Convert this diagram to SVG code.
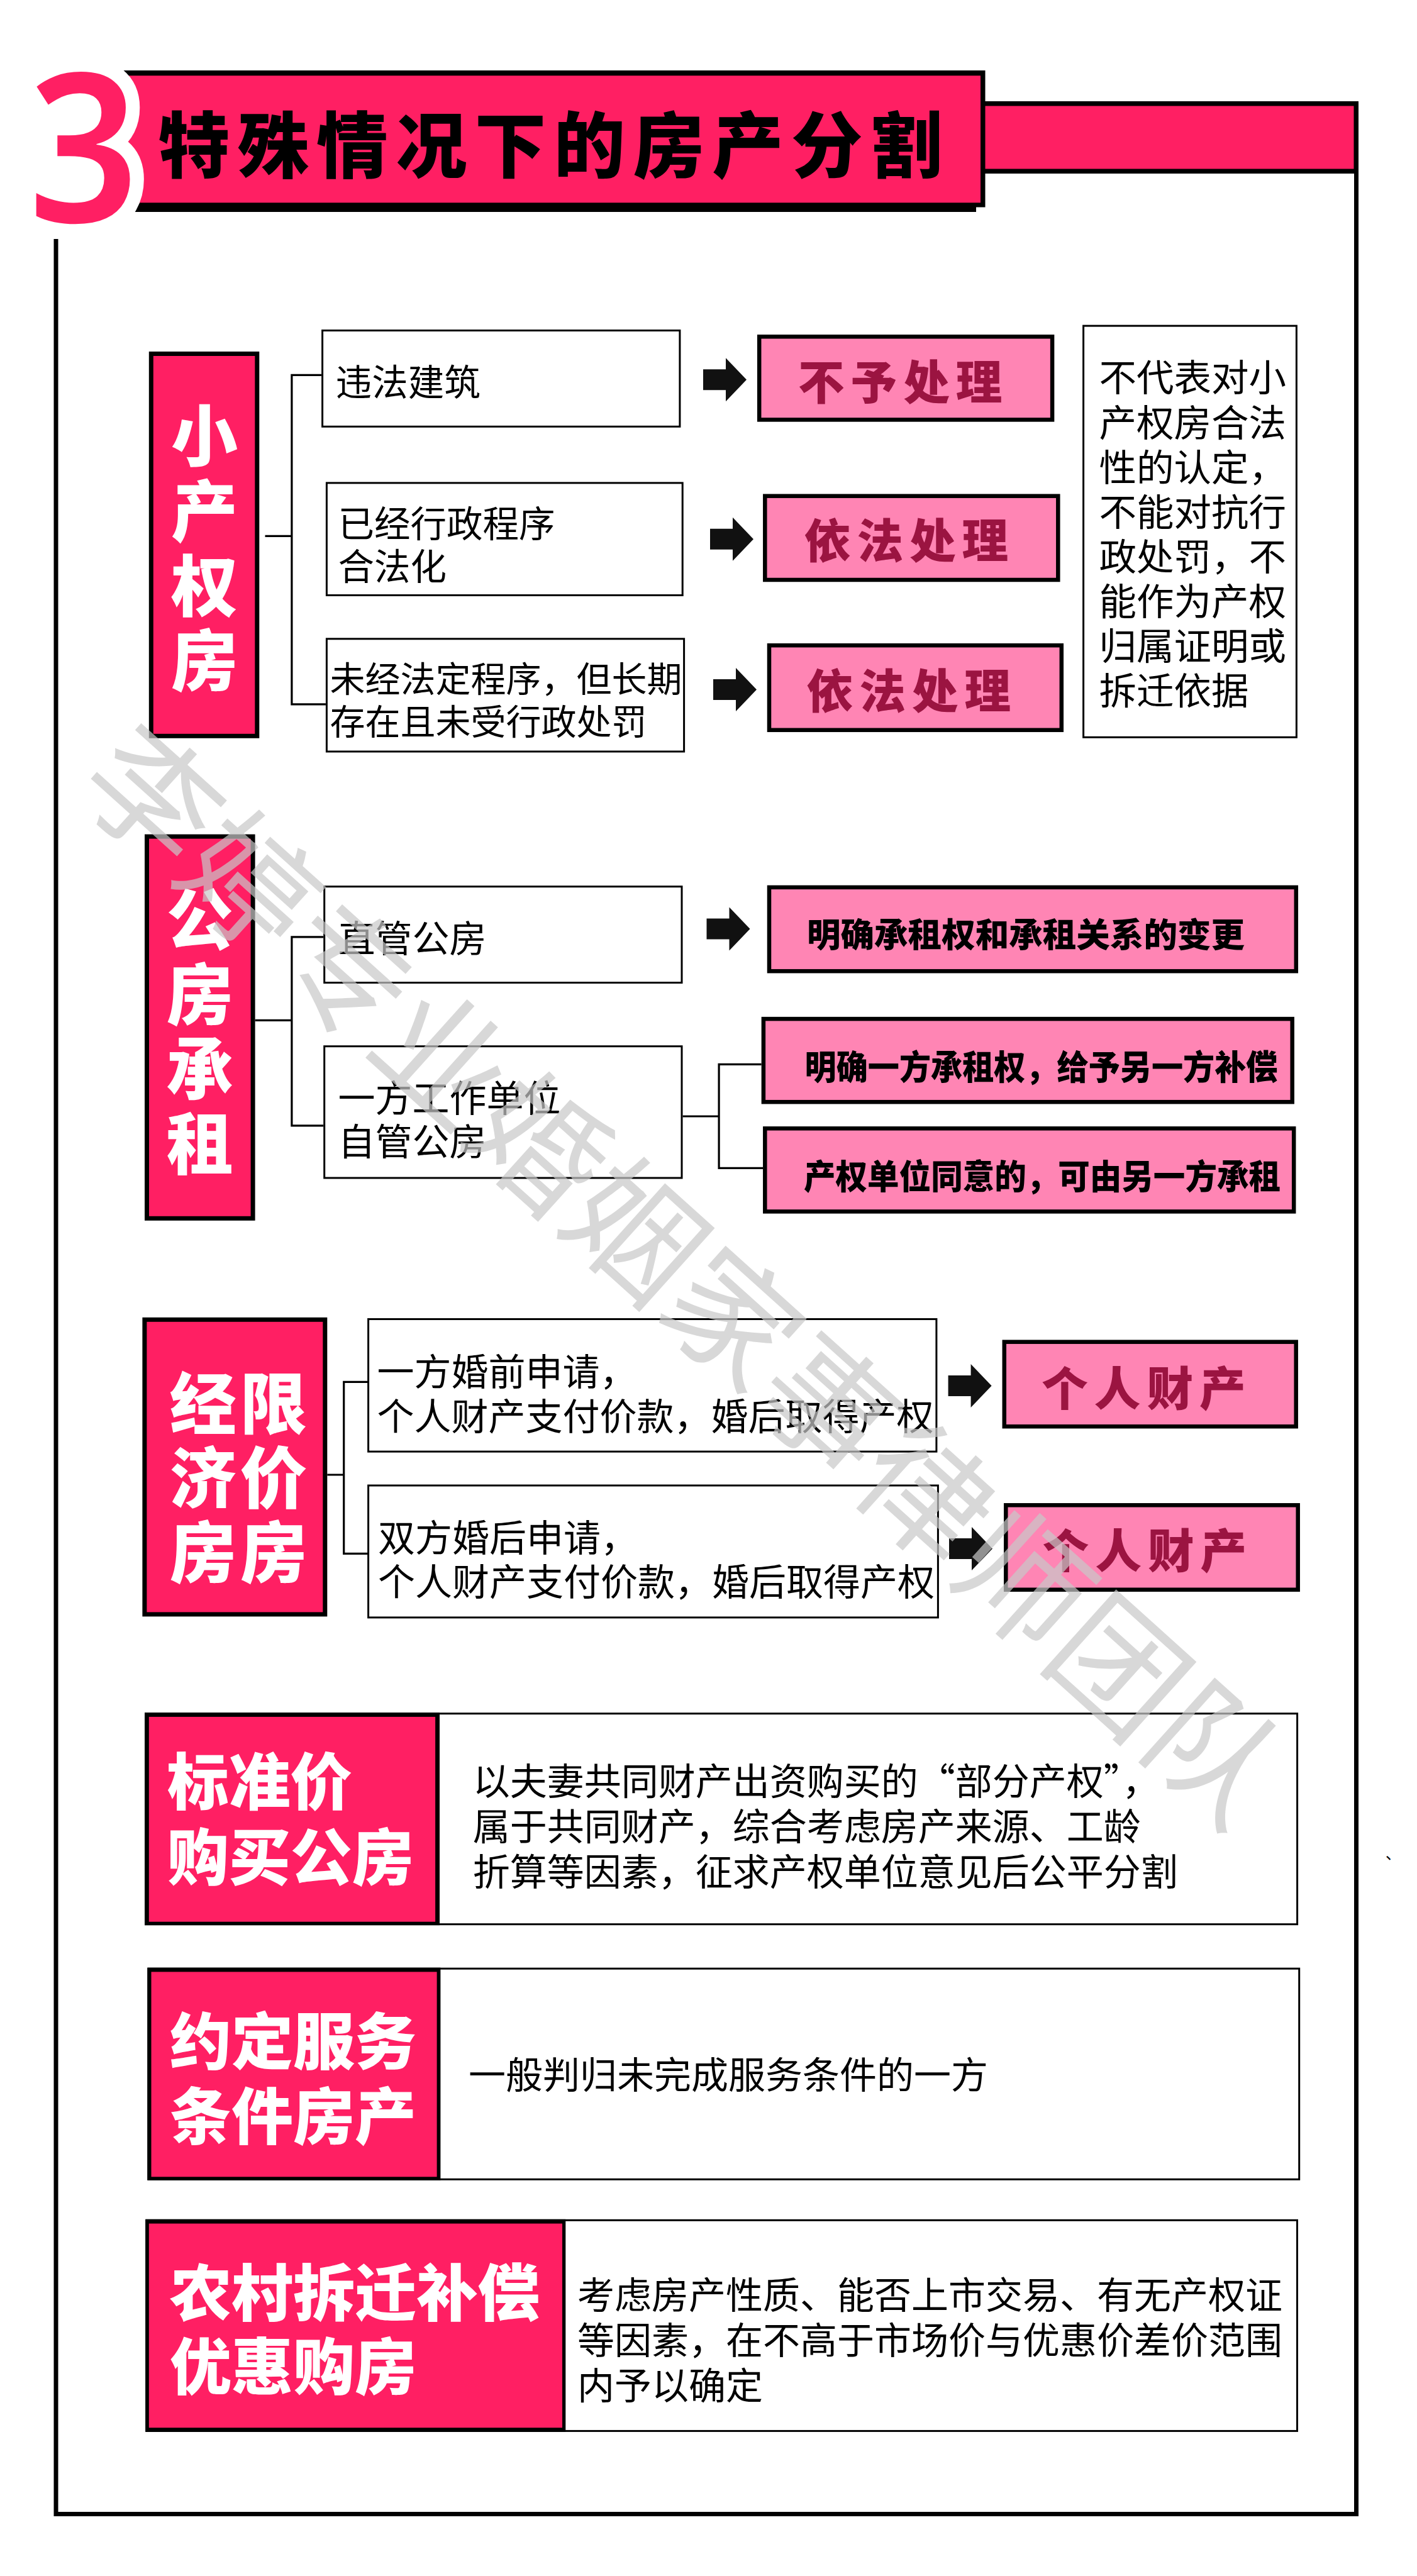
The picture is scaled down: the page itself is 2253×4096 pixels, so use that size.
<svg xmlns="http://www.w3.org/2000/svg" xmlns:xlink="http://www.w3.org/1999/xlink" width="2253" height="4096" viewBox="0 0 2253 4096">
<defs>
<style>
.wb{fill:#fff;stroke:#000;stroke-width:3}
.pb{fill:#ff85b4;stroke:#000;stroke-width:6.5}
.hb{fill:#ff1f63;stroke:#000;stroke-width:7}
.ln{fill:none;stroke:#000;stroke-width:3.2}
.fr{fill:none;stroke:#000;stroke-width:7}
text{font-family:"Noto Sans CJK SC","Noto Sans",sans-serif;dominant-baseline:central}
.t{font-size:59px;fill:#000;font-weight:400}
.tv{font-size:106px;fill:#fff;font-weight:900;text-anchor:middle}
.tw{font-size:98px;fill:#fff;font-weight:900}
.tr{font-size:73.6px;fill:#9b1441;font-weight:900;letter-spacing:10px;text-anchor:middle}
.tk{font-size:54px;fill:#000;font-weight:900;text-anchor:middle}
.ar{fill:#111}
</style>
<path id="arr" class="ar" d="M0,-16.5 H36 V-34.5 L69,0 L36,34.5 V16.5 H0 Z"/>
</defs>
<rect width="2253" height="4096" fill="#fff"/>

<g id="title">
<rect x="1563" y="161" width="597" height="115" fill="#000"/>
<rect x="1566" y="168.5" width="586.5" height="100" fill="#ff1f63"/>
<rect x="169" y="112" width="1397.5" height="217.5" fill="#000"/>
<rect x="205" y="322" width="1347" height="15" fill="#000"/>
<rect x="184" y="120.3" width="1375" height="202" fill="#ff1f63"/>
<text x="251.6" y="223.7" style="font-size:113.5px;font-weight:900;letter-spacing:12.3px;fill:#000">特殊情况下的房产分割</text>
<text transform="translate(133,353) scale(0.93,1)" x="0" y="0" style="font-family:'Noto Sans',sans-serif;font-size:330px;font-weight:600;fill:#ff1f63;stroke:#fff;stroke-width:48px;paint-order:stroke;text-anchor:middle;dominant-baseline:alphabetic">3</text>
</g>

<g id="frame">
<path class="fr" d="M89,380 V3997.5 H2156.5 V275"/>
</g>

<g id="connectors">
<path class="ln" d="M421.5,852.3 H463.9 M511.1,596.4 H463.9 V1119.8 H517.9"/>
<path class="ln" d="M405.6,1622.4 H463.9 M514.2,1489.8 H463.9 V1789.9 H514.2"/>
<path class="ln" d="M1085.5,1775 H1143.1 M1210.6,1692.3 H1143.1 V1857.4 H1213"/>
<path class="ln" d="M520.3,2345 H546.7 M586.6,2197.3 H546.7 V2470.3 H593.4"/>
<use xlink:href="#arr" href="#arr" x="1118" y="603.8"/>
<use xlink:href="#arr" href="#arr" x="1129" y="857.2"/>
<use xlink:href="#arr" href="#arr" x="1134" y="1096.5"/>
<use xlink:href="#arr" href="#arr" x="1123.5" y="1477"/>
<use xlink:href="#arr" href="#arr" x="1507.6" y="2203.4"/>
<use xlink:href="#arr" href="#arr" x="1509" y="2462.4"/>
</g>

<g id="n-xcqf">
<rect class="hb" x="240.3" y="562.5" width="168.5" height="607.8"/>
<text class="tv" x="325" y="686">小</text>
<text class="tv" x="325" y="805.7">产</text>
<text class="tv" x="325" y="925.3">权</text>
<text class="tv" x="325" y="1042.5">房</text>
</g>
<g id="n-wfjz">
<rect class="wb" x="512.6" y="525.5" width="568.3" height="152.8"/>
<text class="t" x="533.8" y="603.8" style="font-size:57.5px">违法建筑</text>
</g>
<g id="n-yjxz">
<rect class="wb" x="519.4" y="767.9" width="565.8" height="178.6"/>
<text class="t" x="537.5" y="829" style="font-size:57.5px">已经行政程序</text>
<text class="t" x="537.5" y="897" style="font-size:57.5px">合法化</text>
</g>
<g id="n-wjfd">
<rect class="wb" x="519.4" y="1015.8" width="568.2" height="179.2"/>
<text class="t" x="524.6" y="1075.6" style="font-size:56px">未经法定程序，但长期</text>
<text class="t" x="524.6" y="1143.7" style="font-size:56px">存在且未受行政处罚</text>
</g>
<g id="n-byc">
<rect class="pb" x="1207.2" y="535.3" width="465.9" height="132.1"/>
<text class="tr" x="1436.2" y="602.5">不予处理</text>
</g>
<g id="n-yfcl1">
<rect class="pb" x="1216.3" y="788.7" width="466" height="133.3"/>
<text class="tr" x="1446" y="854.7">依法处理</text>
</g>
<g id="n-yfcl2">
<rect class="pb" x="1223" y="1026.2" width="464.8" height="134.6"/>
<text class="tr" x="1449.8" y="1094">依法处理</text>
</g>
<g id="n-note">
<rect class="wb" x="1722.6" y="518.1" width="338.8" height="654.2"/>
<text class="t" x="1747.5" y="596.4" style="font-size:59.5px">不代表对小</text>
<text class="t" x="1747.5" y="667.5" style="font-size:59.5px">产权房合法</text>
<text class="t" x="1747.5" y="738.6" style="font-size:59.5px">性的认定，</text>
<text class="t" x="1747.5" y="809.7" style="font-size:59.5px">不能对抗行</text>
<text class="t" x="1747.5" y="880.8" style="font-size:59.5px">政处罚，不</text>
<text class="t" x="1747.5" y="951.9" style="font-size:59.5px">能作为产权</text>
<text class="t" x="1747.5" y="1023" style="font-size:59.5px">归属证明或</text>
<text class="t" x="1747.5" y="1094.1" style="font-size:59.5px">拆迁依据</text>
</g>

<g id="n-gfcz">
<rect class="hb" x="233.5" y="1330.1" width="168.6" height="607.2"/>
<text class="tv" x="317.8" y="1455">公</text>
<text class="tv" x="317.8" y="1574">房</text>
<text class="tv" x="317.8" y="1693">承</text>
<text class="tv" x="317.8" y="1812">租</text>
</g>
<g id="n-zggf">
<rect class="wb" x="515.7" y="1409.7" width="568.3" height="152.8"/>
<text class="t" x="537.5" y="1488.6">直管公房</text>
</g>
<g id="n-yfgz">
<rect class="wb" x="515.7" y="1663.7" width="568.3" height="209.3"/>
<text class="t" x="537.5" y="1742.6">一方工作单位</text>
<text class="t" x="537.5" y="1811.3">自管公房</text>
</g>
<g id="n-mqczq">
<rect class="pb" x="1223" y="1410.9" width="837.8" height="133.3"/>
<text class="tk" x="1631" y="1482.5" style="font-size:53.5px" textLength="696" lengthAdjust="spacingAndGlyphs">明确承租权和承租关系的变更</text>
</g>
<g id="n-mqyf">
<rect class="pb" x="1213.9" y="1620.1" width="840.8" height="132.1"/>
<text class="tk" x="1655.5" y="1693" textLength="752" lengthAdjust="spacingAndGlyphs">明确一方承租权，给予另一方补偿</text>
</g>
<g id="n-cqdw">
<rect class="pb" x="1216.3" y="1794.3" width="840.9" height="132.1"/>
<text class="tk" x="1657" y="1867" textLength="758" lengthAdjust="spacingAndGlyphs">产权单位同意的，可由另一方承租</text>
</g>

<g id="n-jjf">
<rect class="hb" x="229.9" y="2098.3" width="286.9" height="468.6"/>
<text class="tv" x="322.8" y="2225">经</text>
<text class="tv" x="322.8" y="2342.7">济</text>
<text class="tv" x="322.8" y="2460.5">房</text>
<text class="tv" x="435" y="2225">限</text>
<text class="tv" x="435" y="2342.7">价</text>
<text class="tv" x="435" y="2460.5">房</text>
</g>
<g id="n-yfhq">
<rect class="wb" x="585.6" y="2097.5" width="903.3" height="210.6"/>
<text class="t" x="599.5" y="2177">一方婚前申请，</text>
<text class="t" x="599.5" y="2248.8">个人财产支付价款，婚后取得产权</text>
</g>
<g id="n-sfhh">
<rect class="wb" x="585.6" y="2362" width="905.8" height="209.9"/>
<text class="t" x="601" y="2441.5">双方婚后申请，</text>
<text class="t" x="601" y="2511.5">个人财产支付价款，婚后取得产权</text>
</g>
<g id="n-grcc1">
<rect class="pb" x="1596.8" y="2133.7" width="463.9" height="134.5"/>
<text class="tr" x="1823.4" y="2203.4">个人财产</text>
</g>
<g id="n-grcc2">
<rect class="pb" x="1599.3" y="2393.3" width="464.4" height="134.4"/>
<text class="tr" x="1825" y="2460.5">个人财产</text>
</g>

<g id="n-bzj">
<rect class="wb" x="231.5" y="2724.7" width="1831.1" height="335"/>
<rect x="230" y="2723.2" width="469" height="338" fill="#000"/>
<rect x="236.8" y="2729.9" width="455.3" height="325.8" fill="#ff1f63"/>
<text class="tw" x="265.7" y="2826.2">标准价</text>
<text class="tw" x="265.7" y="2945.9">购买公房</text>
<text class="t" x="751.7" y="2828">以夫妻共同财产出资购买的“部分产权”，</text>
<text class="t" x="751.7" y="2900">属于共同财产，综合考虑房产来源、工龄</text>
<text class="t" x="751.7" y="2972">折算等因素，征求产权单位意见后公平分割</text>
</g>

<g id="n-ydfw">
<rect class="wb" x="235.9" y="3130.2" width="1829.8" height="335.1"/>
<rect x="234.4" y="3128.7" width="466" height="338.1" fill="#000"/>
<rect x="240.5" y="3135.4" width="454.1" height="325.9" fill="#ff1f63"/>
<text class="tw" x="270" y="3238.6">约定服务</text>
<text class="tw" x="270" y="3358.2">条件房产</text>
<text class="t" x="744.9" y="3295">一般判归未完成服务条件的一方</text>
</g>

<g id="n-ncqq">
<rect class="wb" x="232.8" y="3530.3" width="1829.7" height="335.1"/>
<rect x="231.3" y="3528.8" width="668" height="338.1" fill="#000"/>
<rect x="236.8" y="3535.6" width="657.2" height="324.6" fill="#ff1f63"/>
<text class="tw" x="270" y="3638.6">农村拆迁补偿</text>
<text class="tw" x="270" y="3756.4">优惠购房</text>
<text class="t" x="918" y="3645.4">考虑房产性质、能否上市交易、有无产权证</text>
<text class="t" x="918" y="3717">等因素，在不高于市场价与优惠价差价范围</text>
<text class="t" x="918" y="3789.5">内予以确定</text>
</g>

<text x="2203" y="2945.5" style="font-size:24px;fill:#000">、</text>

<g id="watermark">
<text transform="translate(1097.1,2017.5) rotate(42)" x="0" y="0" style="font-size:206.8px;font-weight:400;fill:#c8c8c8;opacity:0.7;text-anchor:middle">李婷专业婚姻家事律师团队</text>
</g>
</svg>
